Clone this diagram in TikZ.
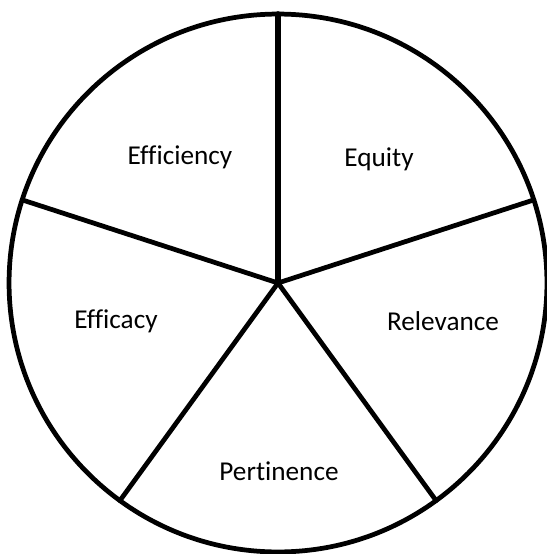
\documentclass[tikz,border=0pt]{standalone}
\usepackage{fontspec}
\setmainfont{Carlito}[Ligatures=NoCommon]
\usepackage{tikz}

\begin{document}
\begin{tikzpicture}[x=0.02cm,y=-0.02cm,every node/.style={font=\fontsize{15.5}{18}\selectfont},
  spoke/.style={line width=2.7pt,line cap=round}]
  \useasboundingbox (0,0) rectangle (547,554);
  \node[circle,draw,line width=2.7pt,minimum size=10.76cm,inner sep=0pt,outer sep=0pt]
    (wheel) at (278,283) {};
  \draw[spoke,line width=3.3pt] (wheel.center) -- (wheel.90);
  \draw[spoke] (wheel.center) -- (wheel.18);
  \draw[spoke] (wheel.center) -- (wheel.-54);
  \draw[spoke] (wheel.center) -- (wheel.-126);
  \draw[spoke] (wheel.center) -- (wheel.162);
  \node (efficiency) at (180,157) {Efficiency};
  \node (equity) at (379,159) {Equity};
  \node (efficacy) at (116,321) {Efficacy};
  \node (relevance) at (443,321) {Relevance};
  \node (pertinence) at (279,471) {Pertinence};
\end{tikzpicture}
\end{document}
